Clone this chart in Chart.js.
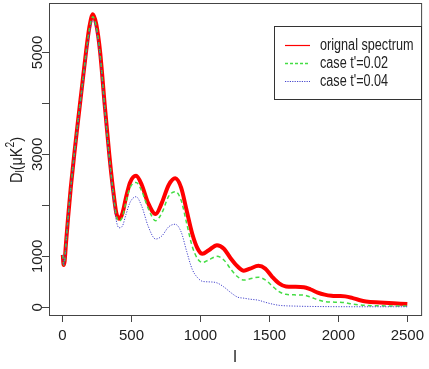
<!DOCTYPE html>
<html>
<head>
<meta charset="utf-8">
<script src="https://cdn.jsdelivr.net/npm/chart.js@4.4.1/dist/chart.umd.min.js"></script>
<style>
  html, body { margin: 0; padding: 0; background: #fff; }
  #wrap { width: 429px; height: 369px; }
</style>
</head>
<body>
<div id="wrap"><canvas id="cmbChart" width="429" height="369"></canvas></div>
<script>
// multipole l values (shared by all three curves)
const ells = [2, 8, 15, 25, 40, 60, 85, 110, 140, 170, 195, 220, 245, 273, 305, 339, 367, 390, 410, 435,
    460, 490, 533, 575, 620, 675, 720, 770, 817, 860, 900, 940, 980, 1015, 1060, 1120, 1170, 1220, 1270, 1315,
    1360, 1420, 1470, 1520, 1570, 1620, 1680, 1750, 1800, 1850, 1900, 1950, 2000, 2050, 2100, 2150, 2200, 2300, 2400, 2500];

const original = [1030, 830, 900, 1250, 1750, 2350, 3000, 3600, 4300, 5000, 5500, 5750, 5550, 5000, 4000, 3000, 2300, 1850, 1740, 1850,
    2150, 2450, 2580, 2400, 2050, 1830, 2050, 2400, 2530, 2350, 1900, 1450, 1150, 1050, 1120, 1220, 1150, 960, 800, 720,
    760, 815, 760, 600, 470, 410, 404, 395, 350, 290, 250, 228, 222, 215, 185, 145, 115, 95, 80, 65];

const case002 = [1030, 830, 900, 1250, 1750, 2350, 3000, 3600, 4280, 4970, 5460, 5700, 5500, 4950, 3960, 2960, 2260, 1800, 1690, 1780,
    2070, 2350, 2450, 2280, 1950, 1700, 1850, 2180, 2270, 2100, 1650, 1200, 950, 880, 930, 1000, 930, 750, 600, 535,
    560, 590, 540, 420, 310, 255, 245, 240, 200, 150, 115, 105, 100, 90, 65, 48, 38, 30, 26, 25];

const case004 = [1030, 830, 900, 1240, 1740, 2330, 2970, 3560, 4230, 4900, 5380, 5640, 5420, 4880, 3900, 2900, 2180, 1700, 1560, 1600,
    1820, 2060, 2170, 1980, 1600, 1340, 1400, 1580, 1630, 1480, 1100, 750, 580, 510, 500, 480, 400, 290, 200, 180,
    160, 140, 100, 65, 40, 30, 25, 20, 18, 16, 15, 14, 13, 13, 12, 12, 12, 12, 12, 12];

const xTicks = [0, 500, 1000, 1500, 2000, 2500];
const yTicks = [0, 1000, 2000, 3000, 4000, 5000];
const yTickLabels = ['0', '1000', '', '3000', '', '5000'];

const legendLabels = ['orignal spectrum', "case t'=0.02", "case t'=0.04"];

const FONT = '"Liberation Sans", Arial, sans-serif';

function toPoints(vals) {
    return ells.map((l, i) => ({ x: l, y: vals[i] }));
}

// narrow-looking text, like the R png device
function narrowText(ctx, txt, x, y, size, squeeze) {
    ctx.save();
    ctx.translate(x, y);
    ctx.scale(squeeze, 1);
    ctx.font = size + 'px ' + FONT;
    ctx.fillText(txt, 0, 0);
    ctx.restore();
    ctx.font = size + 'px ' + FONT;
    return ctx.measureText(txt).width * squeeze;
}

// box, y axis title with sub/superscript and the legend
const extras = {
    id: 'extras',
    afterDraw(chart) {
        const ctx = chart.ctx;
        const a = chart.chartArea;
        ctx.save();
        ctx.strokeStyle = '#444';
        ctx.lineWidth = 1;
        ctx.strokeRect(a.left + 0.5, a.top + 0.5, a.right - a.left, a.bottom - a.top);

        // y title: D_l(μK^2)
        ctx.translate(17, 160);
        ctx.rotate(-Math.PI / 2);
        ctx.fillStyle = '#222';
        ctx.textBaseline = 'middle';
        const sq = 0.85;
        let parts = [['D', 17, 0], ['l', 12, 4], ['(\u03bcK', 17, 0], ['2', 12, -6], [')', 17, 0]];
        let total = 0;
        parts.forEach(p => { ctx.font = p[1] + 'px ' + FONT; total += ctx.measureText(p[0]).width * sq; });
        let x = -total / 2;
        parts.forEach(p => {
            x += narrowText(ctx, p[0], x, p[2], p[1], sq);
        });
        ctx.restore();

        // legend
        ctx.save();
        ctx.fillStyle = '#fff';
        ctx.fillRect(274, 26, 147, 73);
        ctx.strokeStyle = '#333';
        ctx.lineWidth = 1;
        ctx.strokeRect(274.5, 26.5, 147, 73);
        const ds = chart.data.datasets;
        const rows = [45, 63, 81];
        ctx.textBaseline = 'middle';
        rows.forEach((y, i) => {
            ctx.beginPath();
            ctx.strokeStyle = ds[i].borderColor;
            ctx.lineWidth = i === 0 ? 1.2 : (i === 1 ? 1.6 : 1);
            ctx.setLineDash(i === 0 ? [] : (i === 1 ? [3, 2] : [1.2, 1.2]));
            ctx.moveTo(285, y + 0.5);
            ctx.lineTo(310, y + 0.5);
            ctx.stroke();
            ctx.setLineDash([]);
            ctx.fillStyle = '#222';
            narrowText(ctx, legendLabels[i], 320, y + 1, 16, 0.79);
        });
        ctx.restore();
    }
};

new Chart(document.getElementById('cmbChart'), {
    type: 'line',
    data: {
        datasets: [
            {
                label: legendLabels[0],
                data: toPoints(original),
                borderColor: '#ff0000',
                borderWidth: 4,
                order: 3
            },
            {
                label: legendLabels[1],
                data: toPoints(case002),
                borderColor: '#44dd44',
                borderWidth: 1.5,
                borderDash: [4, 3],
                order: 2
            },
            {
                label: legendLabels[2],
                data: toPoints(case004),
                borderColor: '#4444cc',
                borderWidth: 1,
                borderDash: [1.2, 1.4],
                order: 1
            }
        ]
    },
    options: {
        responsive: false,
        animation: false,
        cubicInterpolationMode: 'monotone',
        elements: { point: { radius: 0 }, line: { fill: false } },
        layout: { padding: { top: 3, right: 0, left: 0, bottom: 0 } },
        plugins: { legend: { display: false }, tooltip: { enabled: false } },
        scales: {
            x: {
                type: 'linear',
                min: -98,
                max: 2600,
                afterBuildTicks: s => { s.ticks = xTicks.map(v => ({ value: v })); },
                afterFit: s => { s.height = 54; },
                grid: { drawOnChartArea: false, tickLength: 7, color: '#444' },
                border: { display: false },
                ticks: {
                    color: '#222',
                    padding: 5,
                    maxRotation: 0,
                    font: { family: FONT, size: 15 },
                    callback: v => String(v)
                },
                title: {
                    display: true,
                    text: 'l',
                    color: '#222',
                    font: { family: FONT, size: 16 },
                    padding: { top: 0, bottom: 2 }
                }
            },
            y: {
                type: 'linear',
                min: -150,
                max: 5970,
                afterBuildTicks: s => { s.ticks = yTicks.map(v => ({ value: v })); },
                afterFit: s => { s.width = 49; },
                grid: { drawOnChartArea: false, tickLength: 7, color: '#444' },
                border: { display: false },
                ticks: {
                    color: '#222',
                    padding: -13,
                    crossAlign: 'center',
                    minRotation: 90,
                    maxRotation: 90,
                    font: { family: FONT, size: 15 },
                    callback: (v, i) => yTickLabels[i]
                }
            }
        }
    },
    plugins: [extras]
});
</script>
</body>
</html>
